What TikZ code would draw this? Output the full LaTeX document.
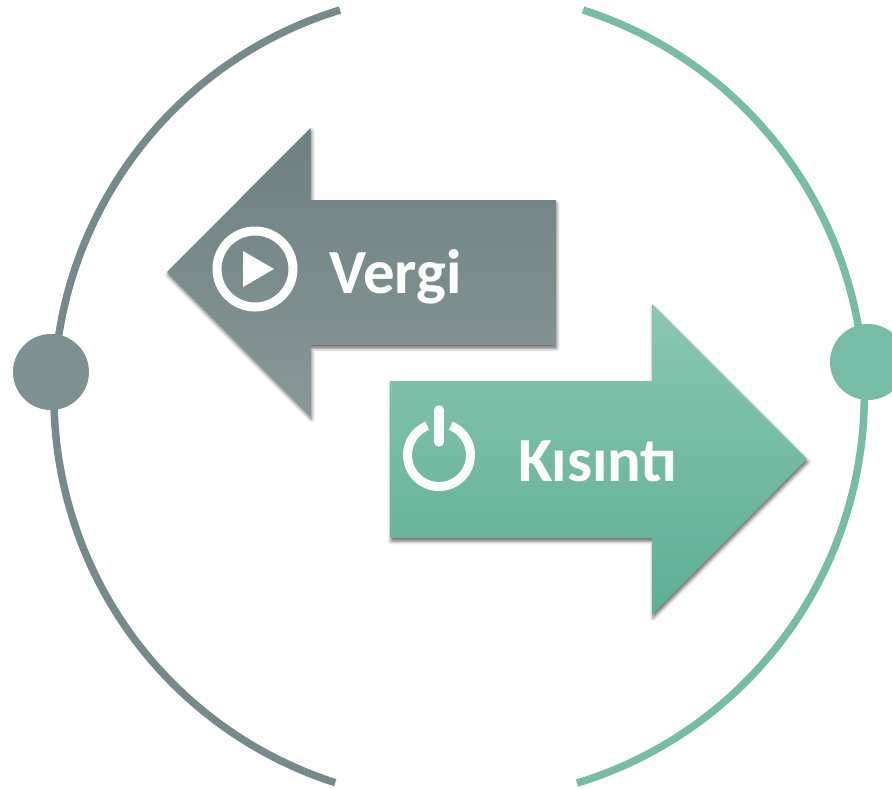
\documentclass[tikz,border=0pt]{standalone}
\usepackage{fontspec}
\setmainfont{Carlito}
\usetikzlibrary{shadows.blur}
\definecolor{greyline}{HTML}{768A8C}
\definecolor{greendot}{HTML}{76BCA6}
\definecolor{greyTop}{HTML}{6C7F81}
\definecolor{greyBot}{HTML}{889898}
\definecolor{greenTop}{HTML}{8AC7B2}
\definecolor{greenBot}{HTML}{5DAE95}
\tikzset{
  ring/.style={line width=7.5pt,line cap=butt},
  softshadow/.style={blur shadow={shadow xshift=1pt,shadow yshift=-3pt,shadow blur radius=3.5pt,shadow opacity=60}},
  labeltext/.style={text=white,font=\fontsize{62.8}{63}\selectfont\bfseries,anchor=base west,inner sep=0pt},
  iconline/.style={draw=white,line width=9pt},
}
\begin{document}
\begin{tikzpicture}[x=1pt,y=-1pt]
\useasboundingbox (0,0) rectangle (892,788);
\clip (0,0) rectangle (892,788);
% outer arcs
\draw[ring,greyline] (340,10) arc[start angle=-107.1,end angle=-252.2,radius=405];
\draw[ring,greendot] (583,10) arc[start angle=-72.2,end angle=73.1,radius=405];
% dots
\fill[greyline!95!white] (51,372) circle[radius=38];
\fill[greendot] (868,362) circle[radius=38];
% left arrow
\path[softshadow,top color=greyTop,bottom color=greyBot]
  (167,272) -- (310.5,128) -- (310.5,200) -- (555.5,200) -- (555.5,345) -- (310.5,345) -- (310.5,416) -- cycle;
% right arrow
\path[softshadow,top color=greenTop,bottom color=greenBot]
  (807,459) -- (652,304) -- (652,381) -- (390,381) -- (390,538) -- (652,538) -- (652,615) -- cycle;
% play icon
\draw[iconline] (255,269) circle[radius=38];
\fill[white] (243,251) -- (274,269) -- (243,287) -- cycle;
% power icon
\draw[iconline] (439,455) ++(-68:31.5) arc[start angle=-68,end angle=248,radius=31.5];
\draw[iconline,line width=9.5pt,line cap=round] (439,410) -- (439,442);
% labels
\node[labeltext] (vergi) at (329,293) {Vergi};
\node[labeltext] (kisinti) at (518,481) {Kısıntı};
\end{tikzpicture}
\end{document}
